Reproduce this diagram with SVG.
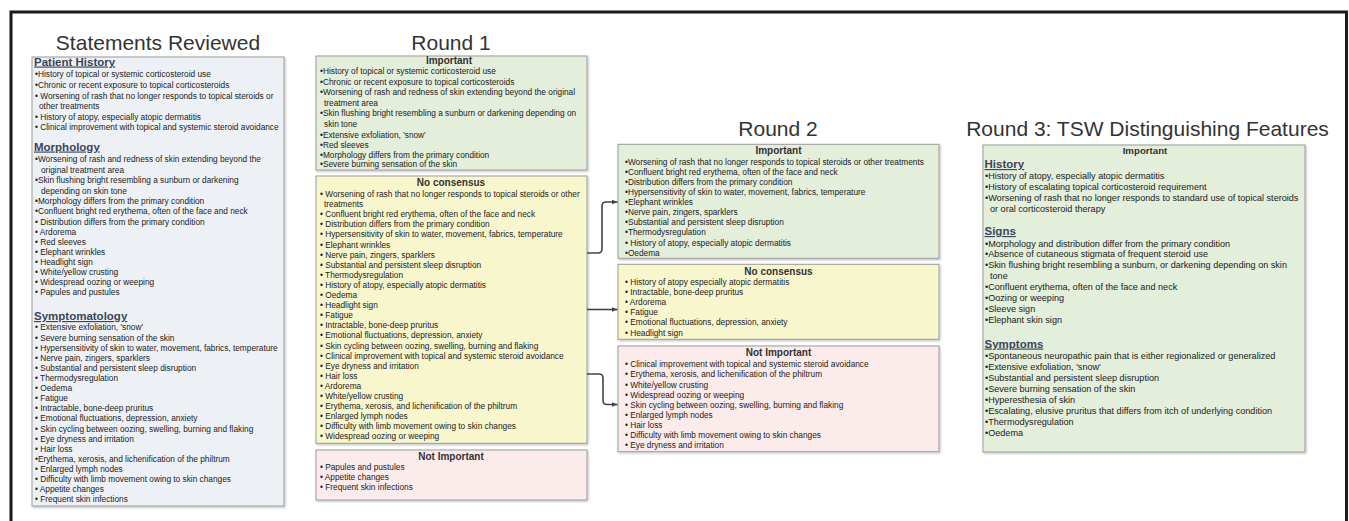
<svg xmlns="http://www.w3.org/2000/svg" width="1349" height="521" viewBox="0 0 1349 521">
<defs>
<style>
text{font-family:"Liberation Sans",Arial,sans-serif;fill:#222}
.t{font-size:8.3px}
.t3{font-size:9.1px}
.h{font-size:10px;font-weight:bold;text-anchor:middle;fill:#333}
.sec{font-size:11.5px;font-weight:bold;fill:#3b4659;text-decoration:underline}
.title{font-size:21px;fill:#333;text-anchor:middle}
.box{stroke:#9c9c9c;stroke-width:1;filter:url(#sh)}
.blue{fill:#edf1f5}
.green{fill:#e3eedb}
.yellow{fill:#f8f6cc}
.pink{fill:#fbebeb}
.conn{fill:none;stroke:#444;stroke-width:1.6;marker-end:url(#arr)}
</style>
<filter id="sh" x="-5%" y="-5%" width="110%" height="110%">
<feDropShadow dx="1" dy="1.2" stdDeviation="0.8" flood-color="#000" flood-opacity="0.25"/>
</filter>
<marker id="arr" viewBox="0 0 10 10" refX="10" refY="5" markerWidth="6" markerHeight="6" markerUnits="userSpaceOnUse" orient="auto">
<path d="M0,1 L10,5 L0,9 Z" fill="#444"/>
</marker>
</defs>
<rect width="1349" height="521" fill="#fff"/>
<path d="M11,521 V12 H1346.5 V521" fill="none" stroke="#1a1a1a" stroke-width="3"/>

<g id="statements">
<text class="title" x="158" y="50">Statements Reviewed</text>
<rect class="box blue" x="32" y="57" width="252" height="449"/>
<text class="sec" x="34" y="65.5">Patient History</text>
<text class="t" x="35" y="77.3">•History of topical or systemic corticosteroid use</text>
<text class="t" x="35" y="87.9">•Chronic or recent exposure to topical corticosteroids</text>
<text class="t" x="35" y="98.5">•  Worsening of rash that no longer responds to topical steroids or</text>
<text class="t" x="39" y="109.1">other treatments</text>
<text class="t" x="35" y="119.7">• History of atopy, especially atopic dermatitis</text>
<text class="t" x="35" y="130.3">• Clinical improvement with topical and systemic steroid avoidance</text>
<text class="sec" x="34" y="150.5">Morphology</text>
<text class="t" x="35" y="162.3">•Worsening of rash and redness of skin extending beyond the</text>
<text class="t" x="41" y="173">original treatment area</text>
<text class="t" x="35" y="183">•Skin flushing bright resembling a sunburn or darkening</text>
<text class="t" x="41" y="193.7">depending on skin tone</text>
<text class="t" x="35" y="203.7">•Morphology differs from the primary condition</text>
<text class="t" x="35" y="214">•Confluent bright red erythema, often of the face and neck</text>
<text class="t" x="35" y="224.7">• Distribution differs from the primary condition</text>
<text class="t" x="35" y="234.7">• Ardorema</text>
<text class="t" x="35" y="244.7">• Red sleeves</text>
<text class="t" x="35" y="254.7">• Elephant wrinkles</text>
<text class="t" x="35" y="264.7">• Headlight sign</text>
<text class="t" x="35" y="274.7">• White/yellow crusting</text>
<text class="t" x="35" y="285.3">• Widespread oozing or weeping</text>
<text class="t" x="35" y="295.3">• Papules and pustules</text>
<text class="sec" x="34" y="320">Symptomatology</text>
<text class="t" x="35" y="330.3">• Extensive exfoliation, 'snow'</text>
<text class="t" x="35" y="341">• Severe burning sensation of the skin</text>
<text class="t" x="35" y="351.3">• Hypersensitivity of skin to water, movement, fabrics, temperature</text>
<text class="t" x="35" y="361.3">• Nerve pain, zingers, sparklers</text>
<text class="t" x="35" y="371.3">• Substantial and persistent sleep disruption</text>
<text class="t" x="35" y="381.3">• Thermodysregulation</text>
<text class="t" x="35" y="391.3">• Oedema</text>
<text class="t" x="35" y="401.3">• Fatigue</text>
<text class="t" x="35" y="411.3">• Intractable, bone-deep pruritus</text>
<text class="t" x="35" y="421.3">• Emotional fluctuations, depression, anxiety</text>
<text class="t" x="35" y="432">• Skin cycling between oozing, swelling, burning and flaking</text>
<text class="t" x="35" y="442">• Eye dryness and irritation</text>
<text class="t" x="35" y="452">• Hair loss</text>
<text class="t" x="35" y="462">•Erythema, xerosis, and lichenification of the philtrum</text>
<text class="t" x="35" y="472">• Enlarged lymph nodes</text>
<text class="t" x="35" y="482.3">• Difficulty with limb movement owing to skin changes</text>
<text class="t" x="35" y="492.3">• Appetite changes</text>
<text class="t" x="35" y="502.3">• Frequent skin infections</text>
</g>

<g id="round1">
<text class="title" x="451" y="50">Round 1</text>
</g>
<g id="r1-important">
<rect class="box green" x="316" y="56" width="271" height="114"/>
<text class="h" x="449" y="64.2">Important</text>
<text class="t" x="320" y="74">•History of topical or systemic corticosteroid use</text>
<text class="t" x="320" y="84.7">•Chronic or recent exposure to topical corticosteroids</text>
<text class="t" x="320" y="95.3">•Worsening of rash and redness of skin extending beyond the original</text>
<text class="t" x="324" y="106">treatment area</text>
<text class="t" x="320" y="116.3">•Skin flushing bright resembling a sunburn or darkening depending on</text>
<text class="t" x="324" y="127.3">skin tone</text>
<text class="t" x="320" y="138">•Extensive exfoliation, 'snow'</text>
<text class="t" x="320" y="148">•Red sleeves</text>
<text class="t" x="320" y="158">•Morphology differs from the primary condition</text>
<text class="t" x="320" y="167.3">•Severe burning sensation of the skin</text>
</g>
<g id="r1-noconsensus">
<rect class="box yellow" x="316" y="176" width="271" height="267.3"/>
<text class="h" x="451" y="186.2">No consensus</text>
<text class="t" x="320" y="197">• Worsening of rash that no longer responds to topical steroids or other</text>
<text class="t" x="324" y="207.1">treatments</text>
<text class="t" x="320" y="217.2">• Confluent bright red erythema, often of the face and neck</text>
<text class="t" x="320" y="227.3">• Distribution differs from the primary condition</text>
<text class="t" x="320" y="237.4">• Hypersensitivity of skin to water, movement, fabrics, temperature</text>
<text class="t" x="320" y="247.5">• Elephant wrinkles</text>
<text class="t" x="320" y="257.6">• Nerve pain, zingers, sparklers</text>
<text class="t" x="320" y="267.7">• Substantial and persistent sleep disruption</text>
<text class="t" x="320" y="277.8">• Thermodysregulation</text>
<text class="t" x="320" y="287.9">• History of atopy, especially atopic dermatitis</text>
<text class="t" x="320" y="298">• Oedema</text>
<text class="t" x="320" y="308.1">• Headlight sign</text>
<text class="t" x="320" y="318.2">• Fatigue</text>
<text class="t" x="320" y="328.3">• Intractable, bone-deep pruritus</text>
<text class="t" x="320" y="338.4">• Emotional fluctuations, depression, anxiety</text>
<text class="t" x="320" y="348.5">• Skin cycling between oozing, swelling, burning and flaking</text>
<text class="t" x="320" y="358.6">• Clinical improvement with topical and systemic steroid avoidance</text>
<text class="t" x="320" y="368.7">• Eye dryness and irritation</text>
<text class="t" x="320" y="378.8">• Hair loss</text>
<text class="t" x="320" y="388.9">• Ardorema</text>
<text class="t" x="320" y="399">• White/yellow crusting</text>
<text class="t" x="320" y="409.1">• Erythema, xerosis, and lichenification of the philtrum</text>
<text class="t" x="320" y="419.2">• Enlarged lymph nodes</text>
<text class="t" x="320" y="429.3">• Difficulty with limb movement owing to skin changes</text>
<text class="t" x="320" y="439.4">• Widespread oozing or weeping</text>
</g>
<g id="r1-notimportant">
<rect class="box pink" x="316" y="450" width="271" height="50"/>
<text class="h" x="451" y="459.5">Not Important</text>
<text class="t" x="320" y="470.3">• Papules and pustules</text>
<text class="t" x="320" y="480.3">• Appetite changes</text>
<text class="t" x="320" y="490.3">• Frequent skin infections</text>
</g>

<g id="round2">
<text class="title" x="778" y="136">Round 2</text>
</g>
<g id="r2-important">
<rect class="box green" x="618" y="144.3" width="321" height="114"/>
<text class="h" x="778.5" y="154.2">Important</text>
<text class="t" x="625" y="164.7">•Worsening of rash that no longer responds to topical steroids or other treatments</text>
<text class="t" x="625" y="174.8">•Confluent bright red erythema, often of the face and neck</text>
<text class="t" x="625" y="184.9">•Distribution differs from the primary condition</text>
<text class="t" x="625" y="195">•Hypersensitivity of skin to water, movement, fabrics, temperature</text>
<text class="t" x="625" y="205.1">•Elephant wrinkles</text>
<text class="t" x="625" y="215.2">•Nerve pain, zingers, sparklers</text>
<text class="t" x="625" y="225.3">•Substantial and persistent sleep disruption</text>
<text class="t" x="625" y="235.4">•Thermodysregulation</text>
<text class="t" x="625" y="245.5">• History of atopy, especially atopic dermatitis</text>
<text class="t" x="625" y="255.6">•Oedema</text>
</g>
<g id="r2-noconsensus">
<rect class="box yellow" x="618" y="264.3" width="321" height="75"/>
<text class="h" x="778.5" y="274.5">No consensus</text>
<text class="t" x="625" y="285.3">• History of atopy especially atopic dermatitis</text>
<text class="t" x="625" y="295.3">• Intractable, bone-deep pruritus</text>
<text class="t" x="625" y="305.3">• Ardorema</text>
<text class="t" x="625" y="315.3">• Fatigue</text>
<text class="t" x="625" y="325.3">• Emotional fluctuations, depression, anxiety</text>
<text class="t" x="625" y="335.5">• Headlight sign</text>
</g>
<g id="r2-notimportant">
<rect class="box pink" x="618" y="346" width="321" height="105.7"/>
<text class="h" x="778.5" y="356.2">Not Important</text>
<text class="t" x="625" y="367.3">• Clinical improvement with topical and systemic steroid avoidance</text>
<text class="t" x="625" y="377.4">• Erythema, xerosis, and lichenification of the philtrum</text>
<text class="t" x="625" y="387.5">• White/yellow crusting</text>
<text class="t" x="625" y="397.6">• Widespread oozing or weeping</text>
<text class="t" x="625" y="407.7">• Skin cycling between oozing, swelling, burning and flaking</text>
<text class="t" x="625" y="417.8">• Enlarged lymph nodes</text>
<text class="t" x="625" y="427.9">• Hair loss</text>
<text class="t" x="625" y="438">• Difficulty with limb movement owing to skin changes</text>
<text class="t" x="625" y="448.1">• Eye dryness and irritation</text>
</g>

<g id="round3">
<text class="title" x="1147.5" y="136">Round 3: TSW Distinguishing Features</text>
<rect class="box green" x="983" y="145" width="322" height="307"/>
<text class="h" x="1145" y="153.5" style="font-size:9.7px">Important</text>
<text class="sec" x="984.5" y="168">History</text>
<text class="t3" x="985" y="179.3">•History of atopy, especially atopic dermatitis</text>
<text class="t3" x="985" y="190">•History of escalating topical corticosteroid requirement</text>
<text class="t3" x="985" y="201">•Worsening of rash that no longer responds to standard use of topical steroids</text>
<text class="t3" x="990" y="212.3">or oral corticosteroid therapy</text>
<text class="sec" x="984.5" y="235">Signs</text>
<text class="t3" x="985" y="246.6">•Morphology and distribution differ from the primary condition</text>
<text class="t3" x="985" y="257.3">•Absence of cutaneous stigmata of frequent steroid use</text>
<text class="t3" x="985" y="268.3">•Skin flushing bright resembling a sunburn, or darkening depending on skin</text>
<text class="t3" x="990" y="279.3">tone</text>
<text class="t3" x="985" y="290">•Confluent erythema, often of the face and neck</text>
<text class="t3" x="985" y="301">•Oozing or weeping</text>
<text class="t3" x="985" y="312.3">•Sleeve sign</text>
<text class="t3" x="985" y="323.3">•Elephant skin sign</text>
<text class="sec" x="984.5" y="347.5">Symptoms</text>
<text class="t3" x="985" y="359.3">•Spontaneous neuropathic pain that is either regionalized or generalized</text>
<text class="t3" x="985" y="370.2">•Extensive exfoliation, 'snow'</text>
<text class="t3" x="985" y="381.1">•Substantial and persistent sleep disruption</text>
<text class="t3" x="985" y="392">•Severe burning sensation of the skin</text>
<text class="t3" x="985" y="402.9">•Hyperesthesia of skin</text>
<text class="t3" x="985" y="413.8">•Escalating, elusive pruritus that differs from itch of underlying condition</text>
<text class="t3" x="985" y="424.7">•Thermodysregulation</text>
<text class="t3" x="985" y="435.6">•Oedema</text>
</g>

<g id="connectors">
<path class="conn" d="M587,253 H598 Q602,253 602,249 V206 Q602,202 606,202 H617.5"/>
<path class="conn" d="M587,309.5 H617.5"/>
<path class="conn" d="M587,374 H599 Q603,374 603,378 V400.5 Q603,404.5 607,404.5 H617.5"/>
</g>
</svg>
